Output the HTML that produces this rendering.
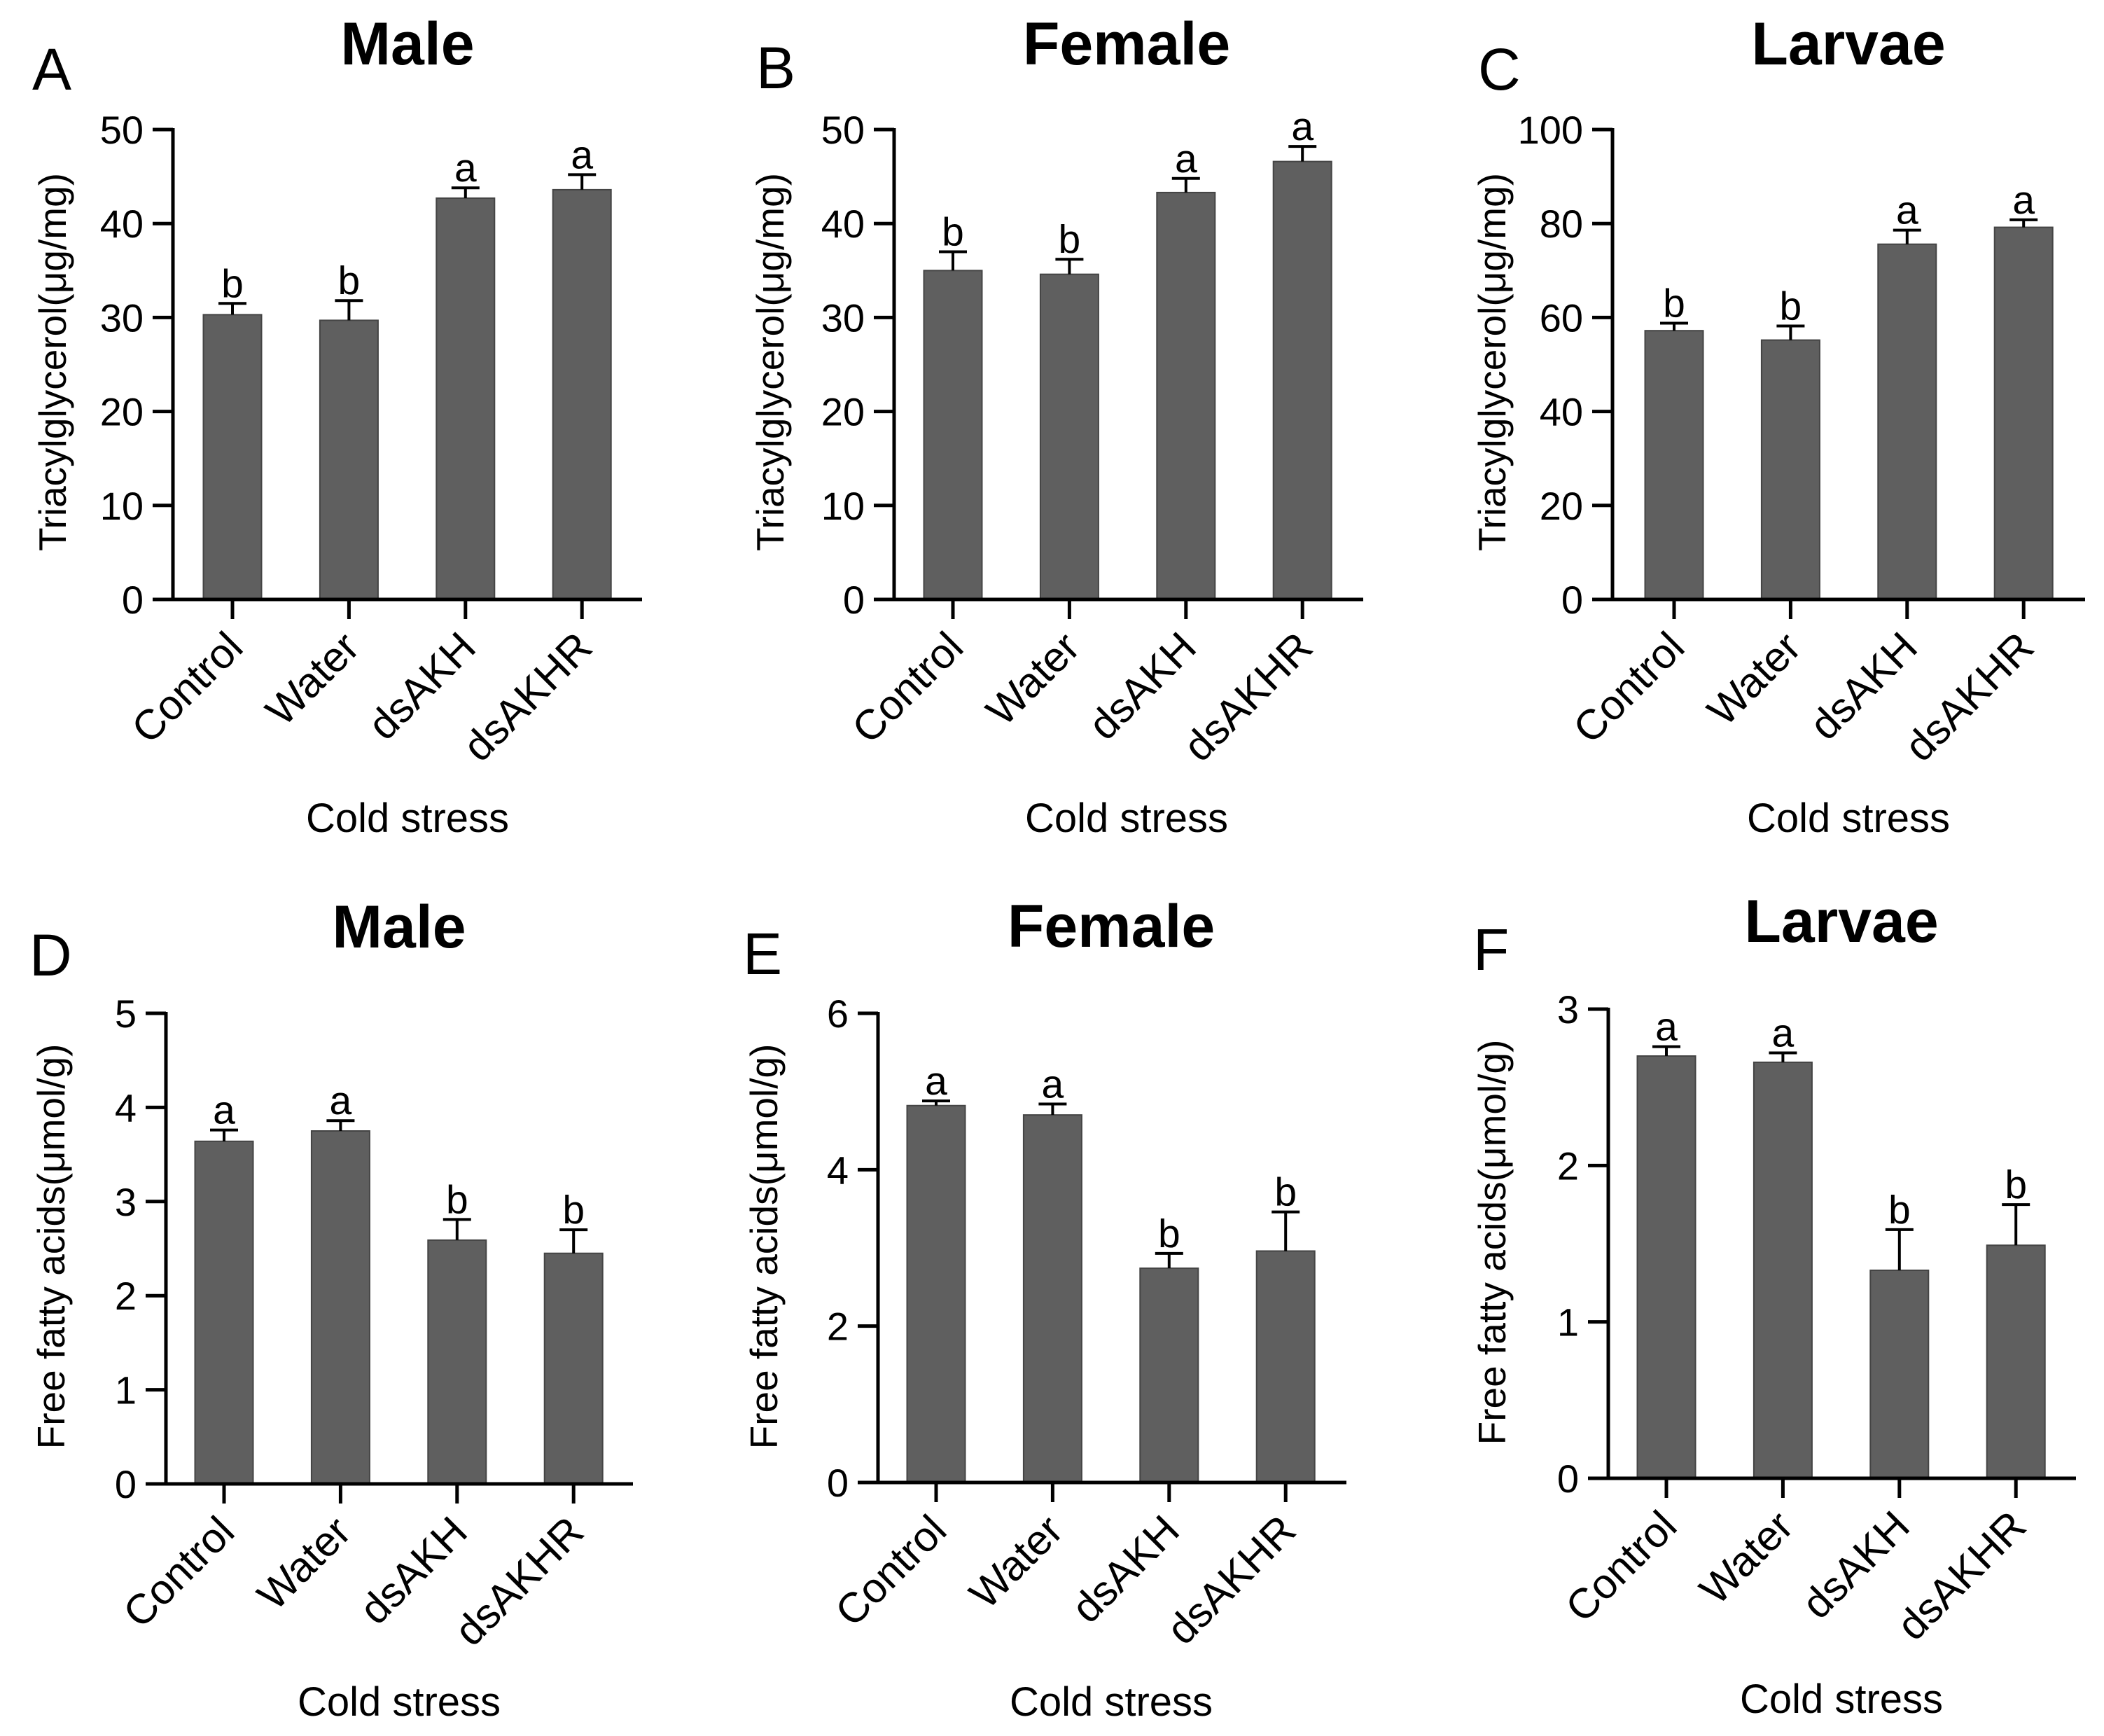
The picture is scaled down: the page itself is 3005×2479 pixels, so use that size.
<!DOCTYPE html>
<html><head><meta charset="utf-8"><style>
html,body{margin:0;padding:0;background:#fff;}
svg{display:block;font-family:"Liberation Sans",Arial,sans-serif;}
</style></head><body>
<svg id="fig" width="3005" height="2479" viewBox="0 0 3005 2479" xmlns="http://www.w3.org/2000/svg"></svg>
<script>
const categories = ["Control","Water","dsAKH","dsAKHR"];
const valuesA = [30.3, 29.7, 42.7, 43.6];
const errorsA = [31.5, 31.8, 43.8, 45.2];
const lettersA = ["b","b","a","a"];
const valuesB = [35.0, 34.6, 43.3, 46.6];
const errorsB = [37.0, 36.2, 44.8, 48.2];
const lettersB = ["b","b","a","a"];
const valuesC = [57.2, 55.2, 75.6, 79.2];
const errorsC = [58.8, 58.2, 78.6, 80.8];
const lettersC = ["b","b","a","a"];
const valuesD = [3.64, 3.75, 2.59, 2.45];
const errorsD = [3.76, 3.86, 2.81, 2.70];
const lettersD = ["a","a","b","b"];
const valuesE = [4.82, 4.70, 2.74, 2.96];
const errorsE = [4.88, 4.84, 2.93, 3.46];
const lettersE = ["a","a","b","b"];
const valuesF = [2.70, 2.66, 1.33, 1.49];
const errorsF = [2.76, 2.72, 1.59, 1.75];
const lettersF = ["a","a","b","b"];
const ticksTG = [0,10,20,30,40,50];
const ticksC = [0,20,40,60,80,100];
const ticksD = [0,1,2,3,4,5];
const ticksE = [0,2,4,6];
const ticksF = [0,1,2,3];

const panels = [
 {id:"a",letter:"A",title:"Male",ytitle:"Triacylglycerol(μg/mg)",vals:valuesA,errs:errorsA,lets:lettersA,ticks:ticksTG,max:50,
  ax:247,top:185,zero:856,right:917,c0:332,ytx:74,yty:517,titleX:582,titleY:92,letX:46,letY:128,xtY:1188},
 {id:"b",letter:"B",title:"Female",ytitle:"Triacylglycerol(μg/mg)",vals:valuesB,errs:errorsB,lets:lettersB,ticks:ticksTG,max:50,
  ax:1277,top:185,zero:856,right:1947,c0:1361,ytx:1099,yty:517,titleX:1609,titleY:92,letX:1080,letY:126,xtY:1188},
 {id:"c",letter:"C",title:"Larvae",ytitle:"Triacylglycerol(μg/mg)",vals:valuesC,errs:errorsC,lets:lettersC,ticks:ticksC,max:100,
  ax:2303,top:185,zero:856,right:2978,c0:2391,ytx:2130,yty:517,titleX:2640,titleY:92,letX:2111,letY:128,xtY:1188},
 {id:"d",letter:"D",title:"Male",ytitle:"Free fatty acids(μmol/g)",vals:valuesD,errs:errorsD,lets:lettersD,ticks:ticksD,max:5,
  ax:237,top:1447,zero:2119,right:904,c0:320,ytx:72,yty:1780,titleX:570,titleY:1353,letX:42,letY:1393,xtY:2450},
 {id:"e",letter:"E",title:"Female",ytitle:"Free fatty acids(μmol/g)",vals:valuesE,errs:errorsE,lets:lettersE,ticks:ticksE,max:6,
  ax:1254,top:1447,zero:2117,right:1923,c0:1337,ytx:1090,yty:1780,titleX:1587,titleY:1352,letX:1061,letY:1391,xtY:2450},
 {id:"f",letter:"F",title:"Larvae",ytitle:"Free fatty acids(μmol/g)",vals:valuesF,errs:errorsF,lets:lettersF,ticks:ticksF,max:3,
  ax:2297,top:1441,zero:2111,right:2965,c0:2380,ytx:2130,yty:1774,titleX:2630,titleY:1345,letX:2104,letY:1385,xtY:2446}
];
const NS="http://www.w3.org/2000/svg";
const svg=document.getElementById("fig");
const STEP=166.4, BW=83, CAP=40;
function mk(tag,attrs,parent){const e=document.createElementNS(NS,tag);for(const k in attrs)e.setAttribute(k,attrs[k]);parent.appendChild(e);return e;}
function txt(parent,x,y,s,size,opts){
  const t=mk("text",{transform:"translate("+x+","+y+")"+(opts.rot?" rotate("+opts.rot+")":""),
    "font-size":size,"text-anchor":opts.anchor||"middle","fill":"#000"},parent);
  if(opts.bold)t.setAttribute("font-weight","bold");
  t.textContent=s;return t;
}
panels.forEach(p=>{
  const g=mk("g",{},svg);
  
  
  const y=v=>p.zero-(v/p.max)*(p.zero-p.top);
  const x=i=>p.c0+i*STEP;
  p.vals.forEach((v,i)=>{
    const r=mk("rect",{x:x(i)-BW/2,y:y(v),width:BW,height:p.zero-y(v),fill:"#5f5f5f",stroke:"#444","stroke-width":2},g);
    
    
    const eb=mk("path",{d:"M"+x(i)+","+y(v)+"V"+y(p.errs[i])+"M"+(x(i)-CAP/2)+","+y(p.errs[i])+"H"+(x(i)+CAP/2),stroke:"#000","stroke-width":4,fill:"none"},g);
    
    
    const lt=txt(g,x(i),y(p.errs[i])-9,p.lets[i],57,{});
    
    
    const tk=mk("line",{x1:x(i),x2:x(i),y1:p.zero,y2:p.zero+28,stroke:"#000","stroke-width":5},g);
    
    
    const cl=txt(g,x(i)+18,p.zero+72,categories[i],60,{anchor:"end",rot:-45});
    
    
  });
  const axl=mk("path",{d:"M"+p.ax+","+(p.top-2)+"V"+p.zero+"H"+p.right,stroke:"#000","stroke-width":5,fill:"none"},g);
  
  
  p.ticks.forEach(t=>{
    const tl=mk("line",{x1:p.ax-29,x2:p.ax,y1:y(t),y2:y(t),stroke:"#000","stroke-width":5},g);
    
    
    const lb=txt(g,p.ax-42,y(t)+20,String(t),56,{anchor:"end"});
    
    
  });
  const yt=txt(g,p.ytx+20,p.yty,p.ytitle,55,{rot:-90});
  
  
  const xt=txt(g,p.titleX,p.xtY,"Cold stress",58,{});
  
  
  const tt=txt(g,p.titleX,p.titleY,p.title,86,{bold:true});
  
  
  const pl=txt(g,p.letX,p.letY,p.letter,84,{anchor:"start"});
  
  
});
</script>
</body></html>
